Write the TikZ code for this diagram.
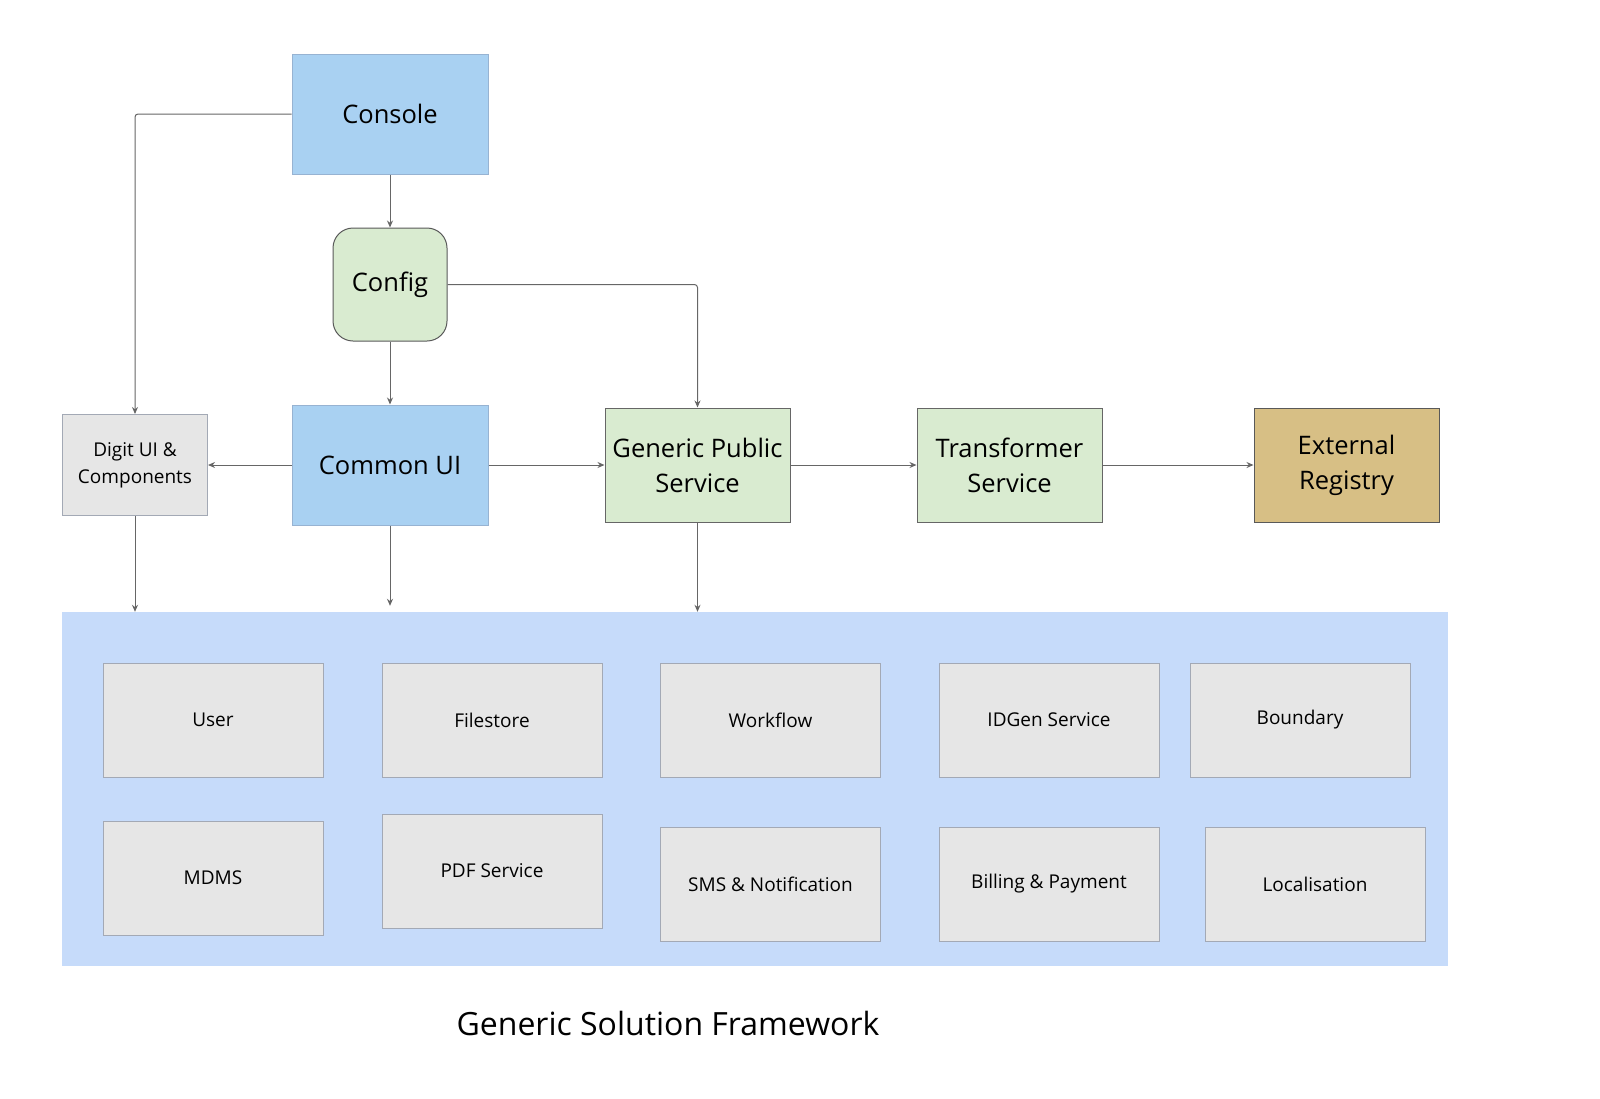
\documentclass[tikz,border=0pt]{standalone}
\usepackage{fontspec}
\setmainfont{Open Sans}
\usetikzlibrary{arrows.meta, positioning}

\definecolor{uiblue}{HTML}{A9D1F2}
\definecolor{uiblueline}{HTML}{97B3D2}
\definecolor{svcgreen}{HTML}{D9EBD0}
\definecolor{extgold}{HTML}{D7BF85}
\definecolor{boxgray}{HTML}{E6E6E6}
\definecolor{boxline}{HTML}{A3A9B5}
\definecolor{panelblue}{HTML}{C6DBFA}
\definecolor{wireline}{HTML}{666666}

\tikzset{
  bigfont/.style={font=\fontsize{25.5}{35}\selectfont},
  smallfont/.style={font=\fontsize{19}{27}\selectfont},
  uibox/.style={draw=uiblueline, fill=uiblue, line width=1pt, minimum width=196pt, minimum height=120pt, bigfont, align=center},
  svcbox/.style={draw=black!60, fill=svcgreen, line width=1pt, minimum width=185pt, minimum height=114pt, bigfont, align=center},
  corebox/.style={draw=boxline, fill=boxgray, line width=1pt, minimum width=220pt, minimum height=114pt, smallfont, align=center},
  wire/.style={->, draw=wireline, line width=1pt, rounded corners=3pt}
}

\begin{document}
\begin{tikzpicture}[x=1pt, y=-1pt, >={Stealth[length=7pt,width=6pt]}]
  \useasboundingbox (0,0) rectangle (1600,1098);

  % core services panel
  \node[fill=panelblue, minimum width=1386pt, minimum height=354pt, inner sep=0pt] (panel) at (755,789) {};
  \node[corebox] (user) at (213,720) {User};
  \node[corebox] (filestore) at (492,720) {Filestore};
  \node[corebox] (workflow) at (770.5,720) {Workflow};
  \node[corebox] (idgen) at (1049,720) {IDGen Service};
  \node[corebox] (boundary) at (1300,720) {Boundary};
  \node[corebox] (mdms) at (213,878) {MDMS};
  \node[corebox] (pdf) at (492,871) {PDF Service};
  \node[corebox] (sms) at (770.5,884) {SMS \& Notification};
  \node[corebox] (billing) at (1049,884) {Billing \& Payment};
  \node[corebox] (locale) at (1315,884) {Localisation};

  % upper blocks
  \node[uibox] (console) at (390,114) {Console};
  \node[draw=black!65, fill=svcgreen, line width=1pt, rounded corners=20pt, minimum width=114pt, minimum height=113pt, bigfont] (config) at (390,284.5) {Config};
  \node[uibox] (commonui) at (390,465) {Common UI};
  \node[draw=boxline, fill=boxgray, line width=1pt, minimum width=145pt, minimum height=101pt, smallfont, align=center] (digitui) at (135,465) {Digit UI \&\\Components};
  \node[svcbox] (gps) at (697.5,465) {Generic Public\\Service};
  \node[svcbox] (transformer) at (1009.5,465) {Transformer\\Service};
  \node[svcbox, fill=extgold, draw=black!65] (registry) at (1346.5,465) {External\\Registry};

  \node[font=\fontsize{32}{38}\selectfont] (title) at (668,1023) {Generic Solution Framework};

  % connectors
  \draw[wire] (console.west) -| (digitui.north);
  \draw[wire] (console.south) -- (config.north);
  \draw[wire] (config.east) -| (gps.north);
  \draw[wire] (config.south) -- (commonui.north);
  \draw[wire] (commonui.west) -- (digitui.east);
  \draw[wire] (commonui.east) -- (gps.west);
  \draw[wire] (gps.east) -- (transformer.west);
  \draw[wire] (transformer.east) -- (registry.west);
  \draw[wire] (digitui.south) -- (digitui.south |- panel.north);
  \draw[wire, shorten >=6pt] (commonui.south) -- (commonui.south |- panel.north);
  \draw[wire] (gps.south) -- (gps.south |- panel.north);
\end{tikzpicture}
\end{document}
